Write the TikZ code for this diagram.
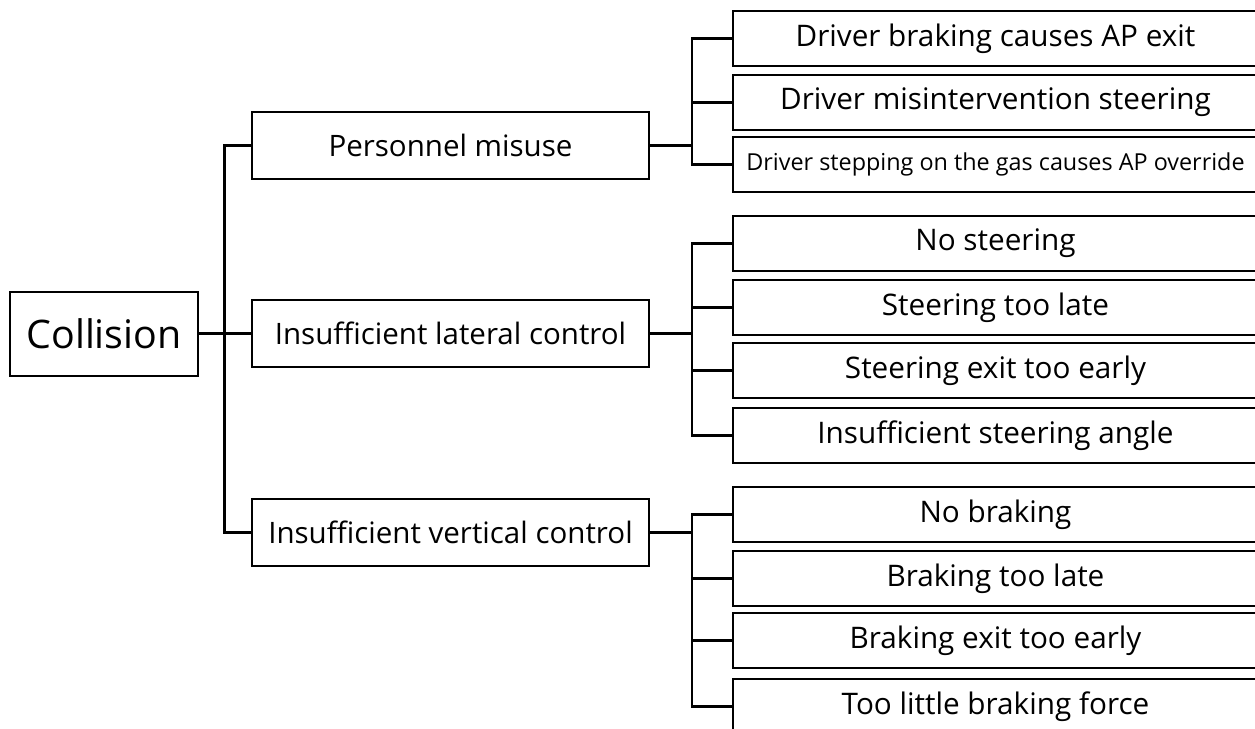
\documentclass[tikz,border=0pt]{standalone}
\usepackage{fontspec}
\setmainfont{Open Sans}
\begin{document}
\begin{tikzpicture}[x=0.02cm,y=-0.02cm,
  line width=1.2pt,
  box/.style={draw, rectangle, inner sep=0pt, align=center},
  link/.style={line width=1.2pt},
  rootbox/.style={box, minimum width=3.76cm, minimum height=1.68cm, font=\fontsize{22.4}{26}\selectfont},
  midbox/.style={box, minimum width=7.94cm, minimum height=1.34cm, font=\fontsize{16.8}{20}\selectfont},
  leafbox/.style={box, minimum width=10.5cm, minimum height=1.1cm, font=\fontsize{16.9}{20}\selectfont},
  smallleaf/.style={leafbox, font=\fontsize{13.3}{16}\selectfont}]
\useasboundingbox (0,0) rectangle (1255,729);
\clip (0,0) rectangle (1255,729);

% root and second level
\node[rootbox] (coll) at (104,334) {Collision};
\node[midbox] (pers) at (450.5,145.5) {Personnel misuse};
\node[midbox] (lat)  at (450.5,333.5) {Insufficient lateral control};
\node[midbox] (vert) at (450.5,532.5) {Insufficient vertical control};

% leaves
\node[leafbox]   (r1)  at (995.5,38.5)  {Driver braking causes AP exit};
\node[leafbox]   (r2)  at (995.5,102.5) {Driver misintervention steering};
\node[smallleaf] (r3)  at (995.5,164.5) {Driver stepping on the gas causes AP override};
\node[leafbox]   (r4)  at (995.5,243.5) {No steering};
\node[leafbox]   (r5)  at (995.5,307.5) {Steering too late};
\node[leafbox]   (r6)  at (995.5,370.5) {Steering exit too early};
\node[leafbox]   (r7)  at (995.5,435.5) {Insufficient steering angle};
\node[leafbox]   (r8)  at (995.5,514.5) {No braking};
\node[leafbox]   (r9)  at (995.5,578.5) {Braking too late};
\node[leafbox]   (r10) at (995.5,640.5) {Braking exit too early};
\node[leafbox]   (r11) at (995.5,706.5) {Too little braking force};

% trunk from the root
\coordinate (tk) at (224.5,333.5);
\draw[link] (coll.east |- lat.west) -- (lat.west);
\draw[link] (pers.west) -| (tk) |- (vert.west);

% personnel misuse branch
\draw[link] (pers.east) -- ++(42,0) coordinate (pa);
\draw[link] (r1.west) -| (pa) |- (r3.west);
\draw[link] (r2.west) -- (r2.west -| pa);

% lateral control branch
\draw[link] (lat.east) -- ++(42,0) coordinate (la);
\draw[link] (r4.west) -| (la) |- (r7.west);
\draw[link] (r5.west) -- (r5.west -| la);
\draw[link] (r6.west) -- (r6.west -| la);

% vertical control branch
\draw[link] (vert.east) -- ++(42,0) coordinate (va);
\draw[link] (r8.west) -| (va) |- (r11.west);
\draw[link] (r9.west) -- (r9.west -| va);
\draw[link] (r10.west) -- (r10.west -| va);
\end{tikzpicture}
\end{document}
